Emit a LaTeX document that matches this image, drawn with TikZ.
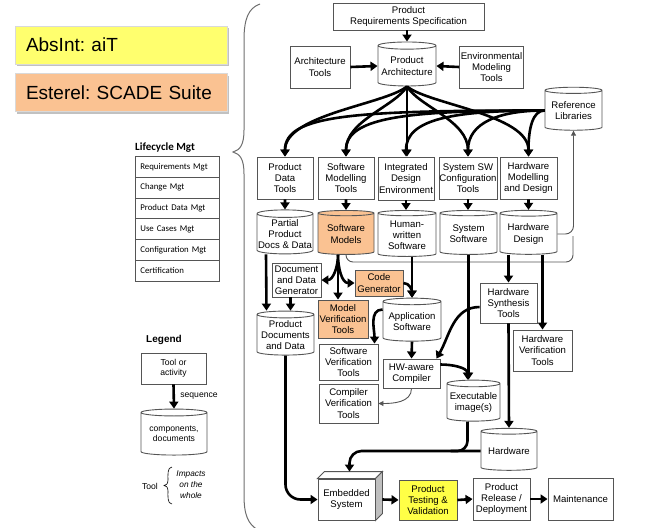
\documentclass[tikz,border=0pt]{standalone}
\usepackage{fontspec}
\setmainfont{Liberation Sans}
\newfontfamily\lcfont{Carlito}
\usetikzlibrary{shapes.geometric,arrows.meta,shadows}

\definecolor{aitYellow}{RGB}{255,255,110}
\definecolor{scadeOrange}{RGB}{250,194,146}
\definecolor{testYellow}{RGB}{255,255,70}
\definecolor{boxGray}{RGB}{85,85,85}
\definecolor{braceGray}{RGB}{110,110,110}

\newcommand\diagfont{\fontsize{9.6}{11.2}\selectfont}
\newcommand\legfont{\fontsize{8.6}{10}\selectfont}

\tikzset{
  tool/.style={draw=boxGray, line width=0.9pt, fill=white, align=center, inner sep=0pt, font=\diagfont},
  store/.style={cylinder, shape border rotate=90, aspect=0.14, draw=boxGray, line width=0.9pt, fill=white, align=center, inner sep=0pt, font=\diagfont},
  flow/.style={line width=2.6pt, -{Triangle[length=7pt,width=9pt]}},
  flowline/.style={line width=2.6pt},
  thinflow/.style={line width=0.9pt, draw=boxGray, -{Triangle[length=5pt,width=5pt]}},
  blurb/.style={draw=black!15, line width=0.4pt, minimum width=212pt, minimum height=38pt, text width=190pt, align=left, inner sep=0pt, font=\fontsize{19}{22}\selectfont, drop shadow={shadow xshift=2pt, shadow yshift=-2pt, fill=black!35, opacity=0.7}},
  lcrow/.style={draw=boxGray, line width=0.7pt, minimum width=84pt, minimum height=20.8pt, text width=74pt, align=left, inner sep=0pt, anchor=north west, font=\lcfont\fontsize{8.8}{9.5}\selectfont},
}

\begin{document}
\frenchspacing
\begin{tikzpicture}[x=1pt,y=1pt,yscale=-1]
    \useasboundingbox (0,0) rectangle (654,528);

    % vendor boxes
    \node[blurb, fill=aitYellow] (ait) at (121,45) {AbsInt: aiT};
    \node[blurb, fill=scadeOrange] (scade) at (121,92.5) {Esterel: SCADE Suite};

    % big brace
    \draw[braceGray, line width=1pt] (260,4) .. controls (248,8) and (244,20) .. (244,40) -- (244,130) .. controls (244,145) and (240,150) .. (233,152) .. controls (240,154) and (244,159) .. (244,174) -- (244,495) .. controls (244,515) and (248,524) .. (258,530);

    % lifecycle table
    \node[anchor=south west, inner sep=0pt, font=\lcfont\bfseries\fontsize{11}{12}\selectfont] (lctitle) at (135,153) {Lifecycle Mgt};
    \foreach \lbl [count=\i] in {Requirements Mgt, Change Mgt, Product Data Mgt, Use Cases Mgt, Configuration Mgt, Certification}
        \node[lcrow] (lc\i) at (135,{156+(\i-1)*20.8}) {\lbl};

    % legend
    \node[inner sep=0pt, font=\bfseries\fontsize{10}{12}\selectfont] (legtitle) at (164,340) {Legend};
    \node[tool, font=\legfont, minimum width=65pt, minimum height=31pt] (legtool) at (173.5,368.5) {Tool or\\activity};
    \node[store, font=\legfont, minimum width=66pt, minimum height=46pt] (legstore) at (174,434) {components,\\documents};
    \draw[flow] (legtool.south) -- (legstore.north) node[midway, right=2pt, font=\legfont] {sequence};
    \node[font=\legfont, inner sep=0pt] (legtoolword) at (150,486) {Tool};
    \draw[line width=0.6pt] (172,467) .. controls (167,467) and (168,476) .. (168,480) .. controls (168,484) and (166,485.5) .. (164,485.5) .. controls (166,485.5) and (168,487) .. (168,491) .. controls (168,495) and (167,504) .. (172,504);
    \node[font=\itshape\fontsize{8.3}{11}\selectfont, align=center, inner sep=0pt] (legimpact) at (191,485) {Impacts\\on the\\whole};

    % top of the flow
    \node[tool, minimum width=151pt, minimum height=27pt] (prs) at (408.5,16.5) {Product\\Requirements Specification};
    \node[store, minimum width=58pt, minimum height=44pt] (parch) at (407,66) {Product\\Architecture};
    \node[tool, minimum width=60pt, minimum height=42pt] (archtools) at (320,67) {Architecture\\Tools};
    \node[tool, minimum width=64pt, minimum height=42pt] (envtools) at (491.5,67) {Environmental\\Modeling\\Tools};
    \node[store, minimum width=57pt, minimum height=43pt] (reflib) at (573.5,110.5) {Reference\\Libraries};

    % tools row
    \node[tool, minimum width=56pt, minimum height=42pt] (pdtools) at (285,178) {Product\\Data\\Tools};
    \node[tool, minimum width=56pt, minimum height=42pt] (swmtools) at (346,178) {Software\\Modelling\\Tools};
    \node[tool, minimum width=56pt, minimum height=43pt] (ide) at (406,178.5) {Integrated\\Design\\Environment};
    \node[tool, minimum width=58pt, minimum height=42pt] (sysswtools) at (468,178) {System SW\\Configuration\\Tools};
    \node[tool, minimum width=57pt, minimum height=42pt] (hwmd) at (528.5,178) {Hardware\\Modelling\\and Design};

    % stores row
    \node[store, minimum width=56pt, minimum height=44pt] (ppdd) at (285,234) {Partial\\Product\\Docs \& Data};
    \node[store, fill=scadeOrange, minimum width=56pt, minimum height=44pt] (swmodels) at (346,234) {Software\\Models};
    \node[store, minimum width=58pt, minimum height=46pt] (hws) at (407,235) {Human-\\written\\Software};
    \node[store, minimum width=57pt, minimum height=44pt] (syssw) at (468.5,234) {System\\Software};
    \node[store, minimum width=57pt, minimum height=44pt] (hwdesign) at (528.5,234) {Hardware\\Design};

    % lower part
    \node[tool, minimum width=49pt, minimum height=34pt] (docgen) at (296.5,280) {Document\\and Data\\Generator};
    \node[store, minimum width=57pt, minimum height=44pt] (pdd) at (285.5,335) {Product\\Documents\\and Data};
    \node[tool, fill=scadeOrange, minimum width=48pt, minimum height=26pt] (codegen) at (379,283) {Code\\Generator};
    \node[tool, fill=scadeOrange, minimum width=50pt, minimum height=38pt] (mvt) at (343,319) {Model\\Verification\\Tools};
    \node[store, minimum width=58pt, minimum height=43pt] (appsw) at (412,321.5) {Application\\Software};
    \node[tool, minimum width=59pt, minimum height=36pt] (swvt) at (348.5,362) {Software\\Verification\\Tools};
    \node[tool, minimum width=59pt, minimum height=39pt] (cvt) at (348.5,403.5) {Compiler\\Verification\\Tools};
    \node[tool, minimum width=57pt, minimum height=29pt] (hwcomp) at (411.5,373.5) {HW-aware\\Compiler};
    \node[store, minimum width=53pt, minimum height=41pt] (exec) at (473.5,402.5) {Executable\\image(s)};
    \node[tool, minimum width=57pt, minimum height=40pt] (hwsynth) at (508.5,303) {Hardware\\Synthesis\\Tools};
    \node[tool, minimum width=59pt, minimum height=41pt] (hwvt) at (542.5,350.5) {Hardware\\Verification\\Tools};
    \node[store, minimum width=56pt, minimum height=42pt] (hardware) at (509,451) {Hardware};

    % bottom row
    \node[tool, minimum width=57pt, minimum height=41pt] (embedded) at (346.5,499.5) {Embedded\\System};
    \draw[draw=boxGray, line width=0.9pt, fill=white] (embedded.north west) -- ++(7,-7) -- ([shift={(7,-7)}]embedded.north east) -- (embedded.north east) -- cycle;
    \draw[draw=boxGray, line width=0.9pt, fill=black!25] (embedded.north east) -- ++(7,-7) -- ([shift={(7,-7)}]embedded.south east) -- (embedded.south east) -- cycle;
    \path ([shift={(3,-7)}]embedded.north) coordinate (embtop);
    \node[tool, fill=testYellow, minimum width=58pt, minimum height=40pt] (ptv) at (428,500) {Product\\Testing \&\\Validation};
    \node[tool, minimum width=57pt, minimum height=42pt] (prd) at (501.5,499) {Product\\Release /\\Deployment};
    \node[tool, minimum width=65pt, minimum height=42pt] (maint) at (580.5,499) {Maintenance};

    % arrows at the top
    \draw[flow] (parch.north |- prs.south) -- (parch.north);
    \draw[flow] (archtools.east) -- (parch.west);
    \draw[flow] (envtools.west) -- (parch.east);

    % architecture and libraries feed every tool
    \draw[flow] (parch.south) .. controls +(-22,18) and +(0,-42) .. (pdtools.north);
    \draw[flow] (parch.south) .. controls +(-12,20) and +(0,-36) .. (swmtools.north);
    \draw[flow] (parch.south) -- (parch.south |- ide.north);
    \draw[flow] (parch.south) .. controls +(12,20) and +(0,-36) .. (sysswtools.north);
    \draw[flow] (parch.south) .. controls +(22,18) and +(0,-42) .. (hwmd.north);
    \draw[flow] (reflib.west) .. controls +(-190,0) and +(0,-42) .. (pdtools.north);
    \draw[flow] (reflib.west) .. controls +(-135,0) and +(0,-40) .. (swmtools.north);
    \draw[flow] (reflib.west) .. controls +(-90,0) and +(0,-38) .. (ide.north);
    \draw[flow] (reflib.west) .. controls +(-45,0) and +(0,-34) .. (sysswtools.north);
    \draw[flow] (reflib.west) .. controls +(-12,0) and +(0,-28) .. (hwmd.north);

    % tools to their stores
    \draw[flow] (pdtools.south) -- (ppdd.north);
    \draw[flow] (swmtools.south) -- (swmodels.north);
    \draw[flow] (ide.south) -- (ide.south |- hws.north);
    \draw[flow] (sysswtools.south) -- (sysswtools.south |- syssw.north);
    \draw[flow] (hwmd.south) -- (hwdesign.north);

    % back to the libraries
    \draw[thinflow, rounded corners=8pt] (hwdesign.east) -| (reflib.south);
    \coordinate (rlturn) at (573,262);
    \draw[line width=0.9pt, draw=boxGray, rounded corners=7pt] (swmodels.south) |- (rlturn) -- (573,236);

    % documents
    \draw[flow] ([xshift=-19pt]ppdd.south) -- ([xshift=-19pt]pdd.north);
    \draw[flow] ([xshift=-6pt]docgen.south) -- ([xshift=-6pt]docgen.south |- pdd.north);

    % software models
    \draw[flow] ([xshift=-8pt]swmodels.south) -- ([xshift=-5pt]mvt.north);
    \draw[flow] ([xshift=-8pt]swmodels.south) to[out=90,in=0] (docgen.east);
    \draw[flow] ([xshift=-8pt]swmodels.south) to[out=90,in=180] (codegen.west);

    % application software
    \draw[flow] (hws.south -| appsw.north) -- (appsw.north);
    \draw[flow] (codegen.east) to[out=0,in=-90] (appsw.north);
    \draw[flow] ([yshift=-12pt]appsw.west) to[out=180,in=-90] ([xshift=26pt]swvt.north);
    \draw[flow] (appsw.south) -- (hwcomp.north);
    \draw[thinflow] (hwcomp.south) to[out=90,in=0] (cvt.east);
    \draw[flow] ([yshift=-9pt]hwcomp.east) to[out=0,in=-90] ([xshift=-6pt]exec.north);
    \draw[flow] (syssw.south) -- (syssw.south |- exec.north);

    % hardware
    \draw[flow] (hwsynth.north |- hwdesign.south) -- (hwsynth.north);
    \draw[flow] (hwvt.north |- hwdesign.south) -- (hwvt.north);
    \draw[flow] ([yshift=4pt]hwsynth.west) to[out=180,in=-60] ([xshift=-4pt]hwcomp.north east);
    \draw[flow] (hwsynth.south) -- (hardware.north);

    % into the embedded system
    \draw[flow, rounded corners=12pt] (hardware.west) -| (embtop);
    \draw[flowline, rounded corners=10pt] ([xshift=-6pt]exec.south) |- ([xshift=-30pt]hardware.west);
    \draw[flow, rounded corners=15pt] (pdd.south) |- (embedded.west);

    % release chain
    \draw[flow] ([xshift=7pt]embedded.east) -- (ptv.west);
    \draw[flow] (ptv.east) -- (prd.west);
    \draw[flow] (prd.east) -- (maint.west);
\end{tikzpicture}
\end{document}
